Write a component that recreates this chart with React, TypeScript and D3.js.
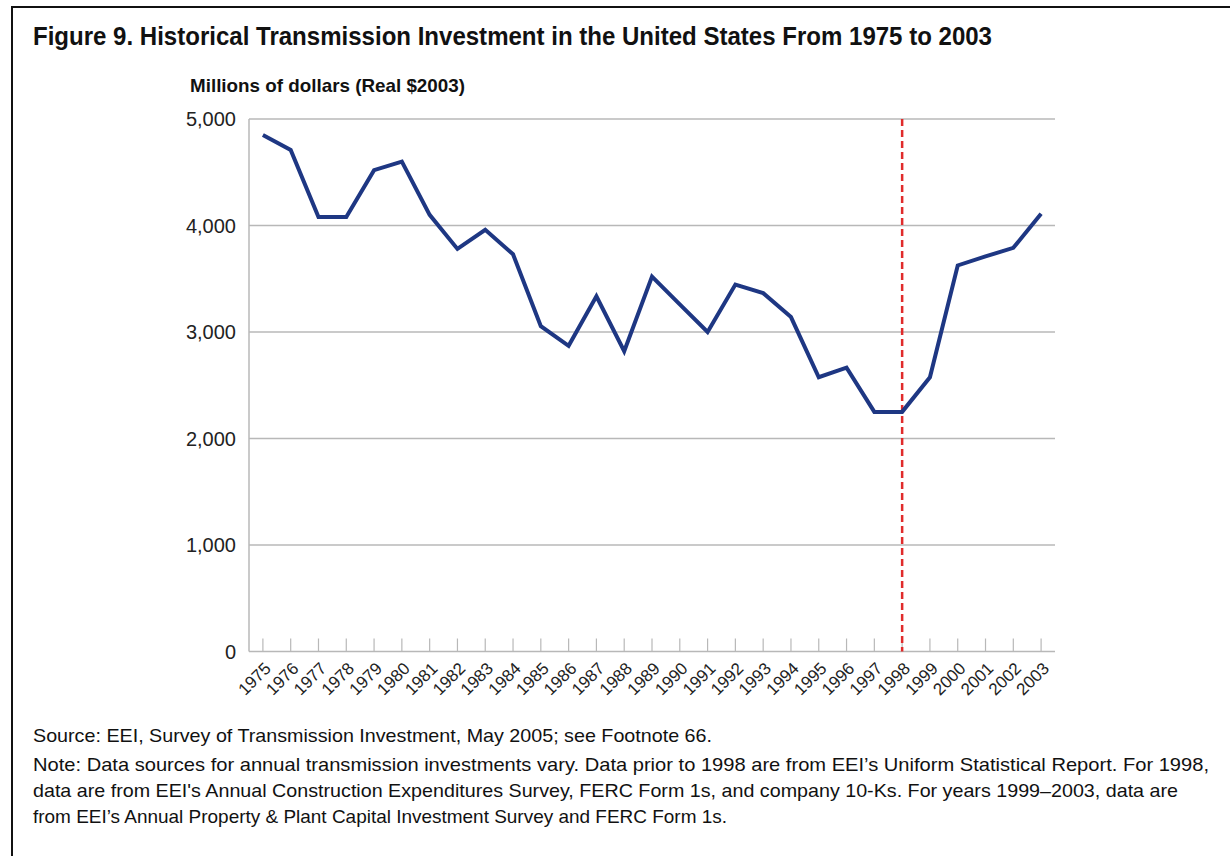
import React from "react";
import * as d3 from "d3";

const years = [
  "1975","1976","1977","1978","1979","1980","1981","1982","1983","1984",
  "1985","1986","1987","1988","1989","1990","1991","1992","1993","1994",
  "1995","1996","1997","1998","1999","2000","2001","2002","2003",
];
const investment = [
  4850, 4710, 4080, 4080, 4520, 4600, 4100, 3780, 3960, 3730,
  3055, 2870, 3335, 2820, 3520, 3260, 3000, 3445, 3365, 3140,
  2575, 2665, 2250, 2250, 2575, 3625, 3710, 3790, 4110,
];
const yTicks = [0, 1000, 2000, 3000, 4000, 5000];
const markerYear = "1998";

const titleText = "Figure 9. Historical Transmission Investment in the United States From 1975 to 2003";
const subtitleText = "Millions of dollars (Real $2003)";
const sourceText = "Source: EEI, Survey of Transmission Investment, May 2005; see Footnote 66.";
const noteLines = [
  "Note: Data sources for annual transmission investments vary. Data prior to 1998 are from EEI\u2019s Uniform Statistical Report. For 1998,",
  "data are from EEI's Annual Construction Expenditures Survey, FERC Form 1s, and company 10-Ks. For years 1999\u20132003, data are",
  "from EEI\u2019s Annual Property & Plant Capital Investment Survey and FERC Form 1s.",
];
const noteWidths = [1176, 1145, 694];

export default function App() {
  const W = 1230, H = 856;
  const left = 249, right = 1055, top = 119, bottom = 651.5;
  const x = d3.scaleBand<string>().domain(years).range([left, right]);
  const y = d3.scaleLinear().domain([0, 5000]).range([bottom, top]);
  const cx = (yr: string) => (x(yr) as number) + x.bandwidth() / 2;
  const line = d3
    .line<number>()
    .x((_, i) => cx(years[i]))
    .y((d) => y(d));
  const font = "'Liberation Sans Narrow','Arial Narrow','Liberation Sans',Arial,sans-serif";
  const font2 = "'Liberation Sans',Arial,sans-serif";
  const grid = "#b8b8b8";
  return (
    <svg width={W} height={H} style={{ position: "absolute", left: 0, top: 0, background: "#fff" }}>
      <rect x={0} y={0} width={W} height={H} fill="#fff" />
      <path d={`M12,${H} V7 H${W}`} fill="none" stroke="#111" strokeWidth={2} />
      <text x={33} y={45} fontFamily={font} fontWeight="bold" fontSize={25.5} fill="#111"
        textLength={959} lengthAdjust="spacingAndGlyphs">{titleText}</text>
      <text x={190} y={92} fontFamily={font} fontWeight="bold" fontSize={18.5} fill="#111"
        textLength={275} lengthAdjust="spacingAndGlyphs">{subtitleText}</text>

      {yTicks.map((t) => (
        <g key={t}>
          {t > 0 && (
            <line x1={left} x2={right} y1={y(t)} y2={y(t)} stroke={grid} strokeWidth={1.5} />
          )}
          <text x={236} y={y(t)} dy="0.36em" textAnchor="end" fontFamily={font2} fontSize={20} fill="#222">
            {d3.format(",")(t)}
          </text>
        </g>
      ))}
      <line x1={left} x2={left} y1={top} y2={bottom} stroke={grid} strokeWidth={1.5} />
      <line x1={left} x2={right} y1={bottom} y2={bottom} stroke={grid} strokeWidth={1.5} />
      {years.map((yr) => (
        <g key={yr}>
          <line x1={cx(yr)} x2={cx(yr)} y1={bottom} y2={bottom - 13} stroke={grid} strokeWidth={1.2} />
          <text transform={`translate(${cx(yr) + 9},${bottom + 18}) rotate(-45)`} textAnchor="end"
            fontFamily={font2} fontSize={17} fill="#222">{yr}</text>
        </g>
      ))}
      <line x1={cx(markerYear)} x2={cx(markerYear)} y1={top} y2={bottom} stroke="#e02b2b"
        strokeWidth={2.5} strokeDasharray="7 4" />
      <path d={line(investment) || ""} fill="none" stroke="#1e3783" strokeWidth={4} strokeLinejoin="miter" />

      <text x={33} y={742} fontFamily={font} fontSize={19} fill="#111"
        textLength={679} lengthAdjust="spacingAndGlyphs">{sourceText}</text>
      {noteLines.map((l, i) => (
        <text key={i} x={33} y={771 + i * 26} fontFamily={font} fontSize={19} fill="#111"
          textLength={noteWidths[i]} lengthAdjust="spacingAndGlyphs">{l}</text>
      ))}
    </svg>
  );
}
